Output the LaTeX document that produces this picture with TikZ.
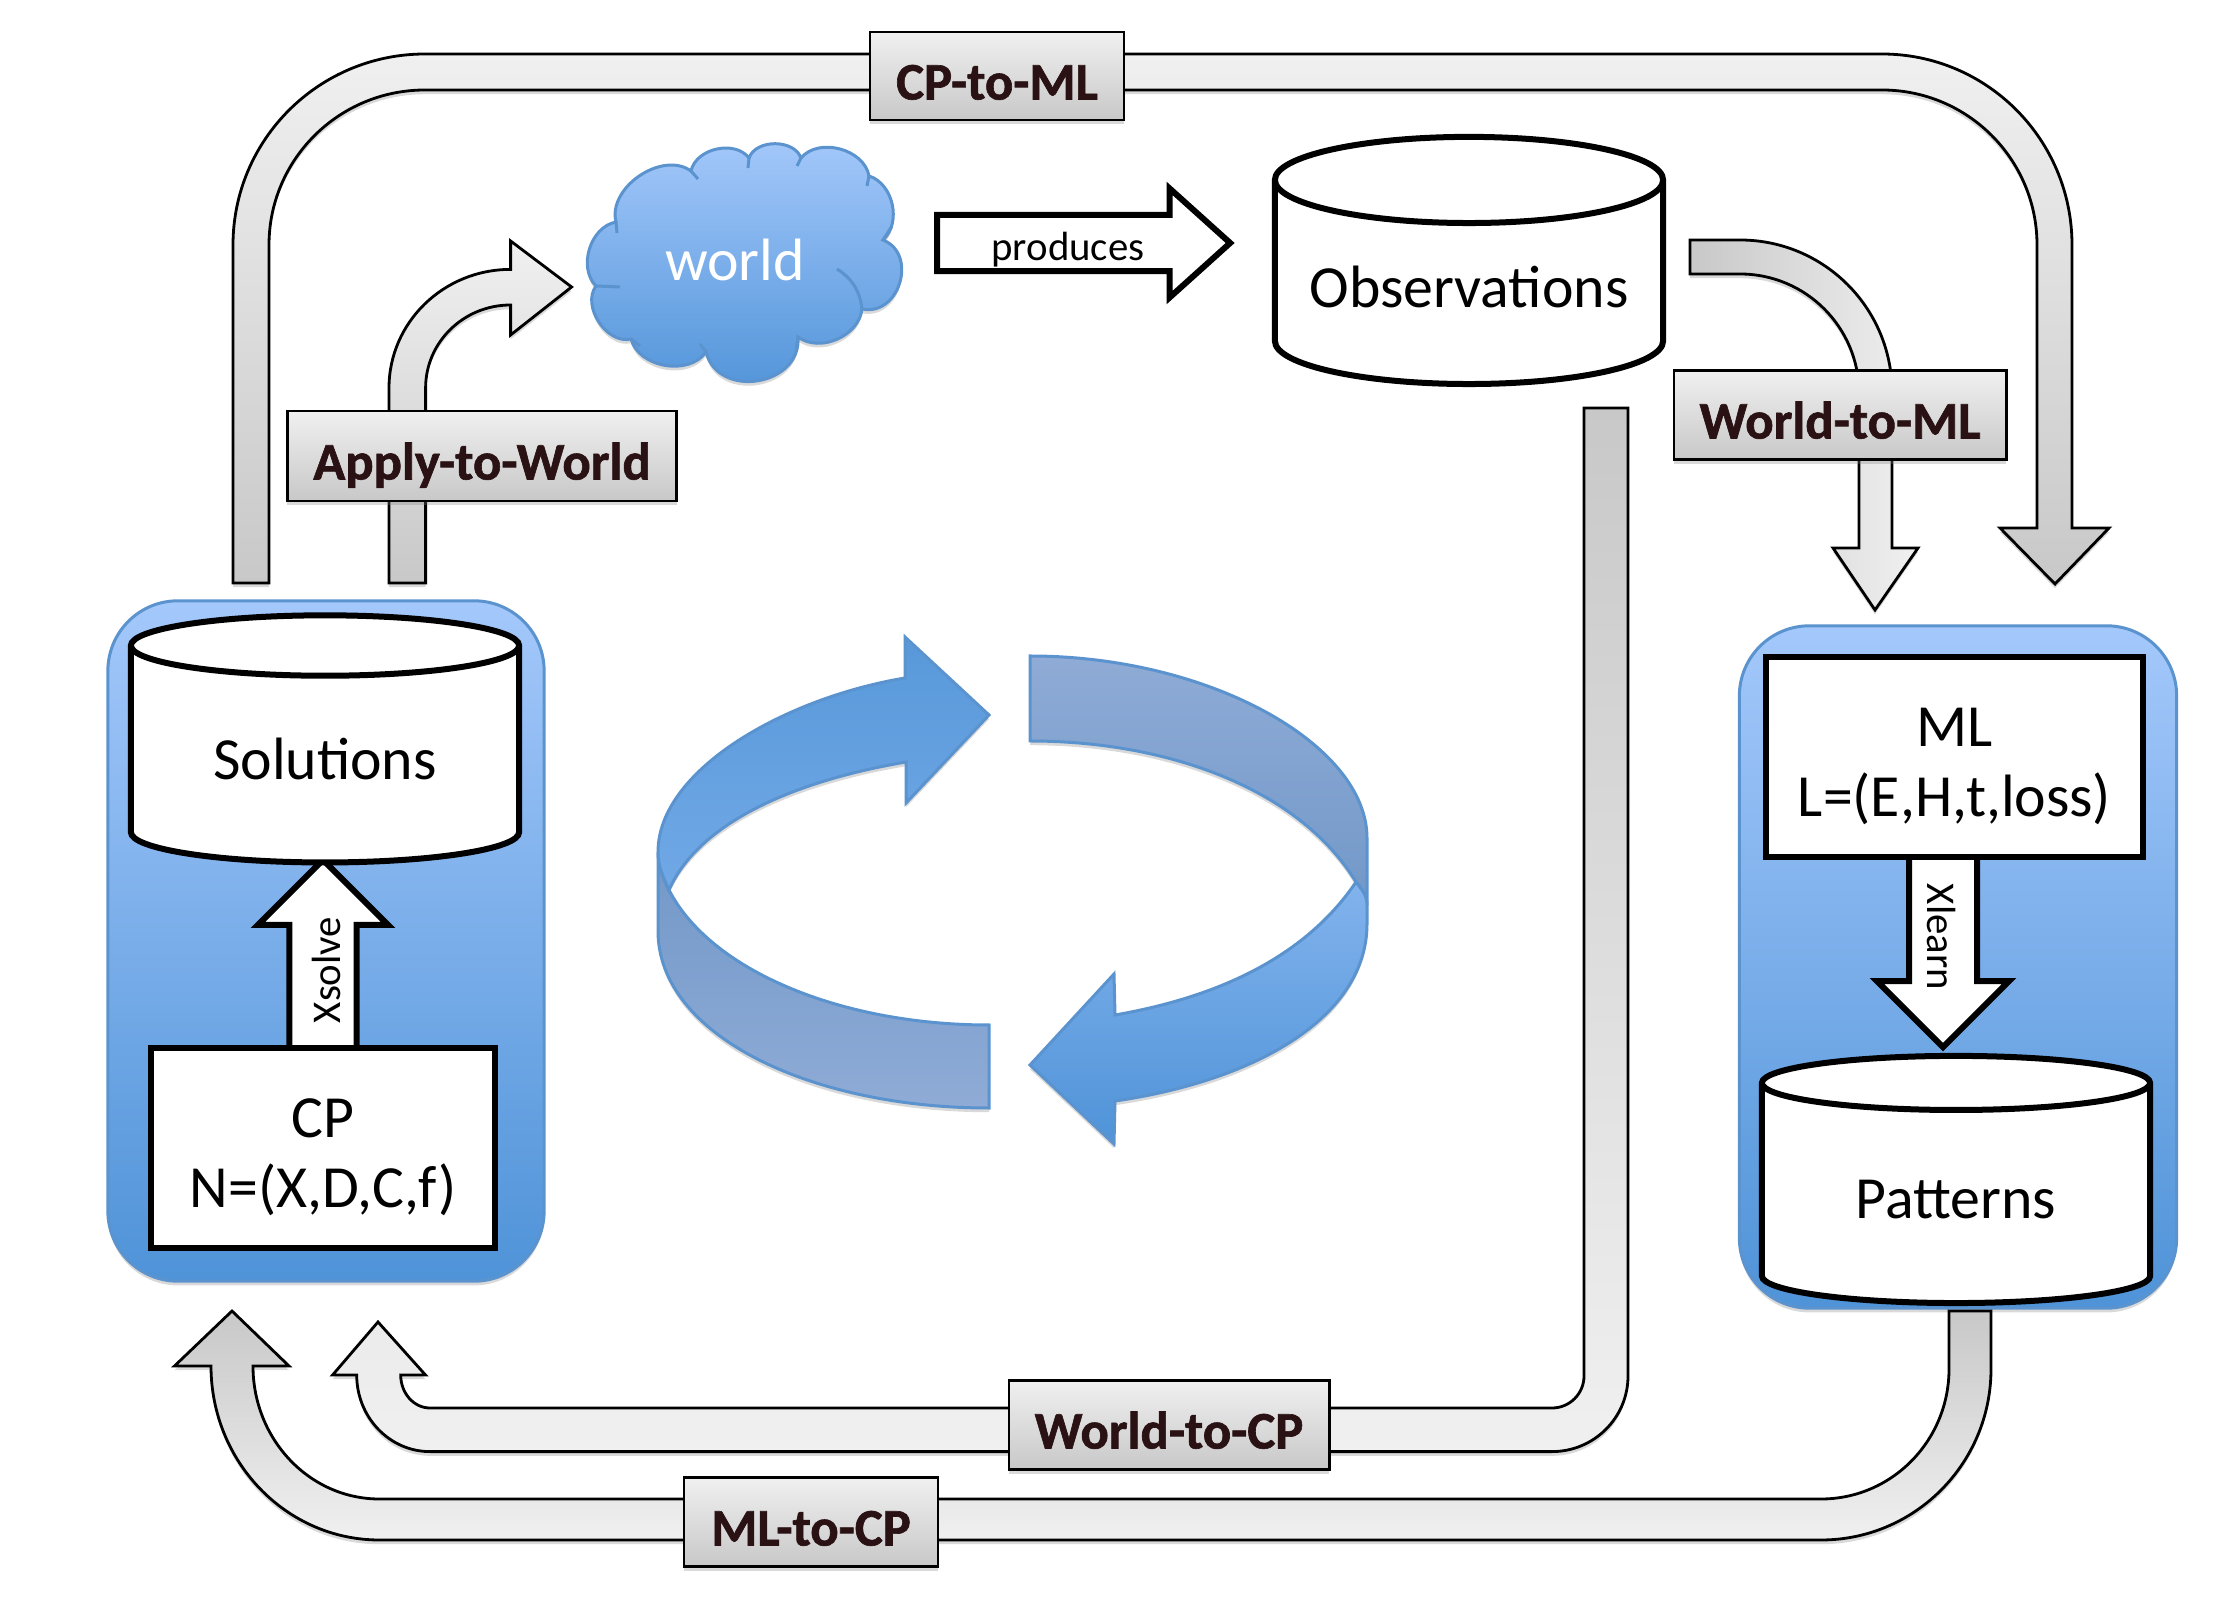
\documentclass[tikz,border=0pt]{standalone}
\usepackage{fontspec}
\setmainfont{Carlito}
\newfontfamily\labelfont[BoldFeatures={FakeBold=1.2}]{Carlito}
\usepackage{tikz}
\usetikzlibrary{positioning,shapes.geometric,shapes.arrows,shadows}
\definecolor{edgeblue}{HTML}{5B93CF}
\definecolor{boxtop}{HTML}{A4C8FB}
\definecolor{boxbottom}{HTML}{4F93D8}
\definecolor{bandlight}{HTML}{F0F0F0}
\definecolor{banddark}{HTML}{C8C8C8}
\definecolor{labeltext}{HTML}{2A1214}
\definecolor{slatelight}{HTML}{8FABD6}
\definecolor{slatedark}{HTML}{7298C8}
\tikzstyle{softshadow} = [drop shadow={shadow xshift=0pt,shadow yshift=-1.2pt,opacity=.3}]
\tikzstyle{group} = [draw=edgeblue,line width=.03cm,top color=boxtop,bottom color=boxbottom,rounded corners=.7cm,softshadow]
\tikzstyle{store} = [draw,line width=.06cm,fill=white,cylinder,shape border rotate=90,shape aspect=.27,minimum width=3.88cm,minimum height=2.47cm,inner sep=0pt,outer sep=0pt,text height=.48cm,text depth=0pt,font=\fontsize{17}{20}\selectfont]
\tikzstyle{task} = [draw,line width=.06cm,fill=white,align=center,inner sep=0pt,font=\fontsize{17}{20}\selectfont]
\tikzstyle{blockarrow} = [draw,line width=.06cm,fill=white,single arrow,single arrow tip angle=90,inner sep=0pt,outer sep=0pt]
\tikzstyle{band} = [draw,line width=.028cm,softshadow]
\tikzstyle{bandlabel} = [draw,line width=.028cm,top color=bandlight,bottom color=banddark,text=labeltext,text height=.5cm,text depth=.03cm,inner ysep=0pt,font=\fontsize{15}{18}\selectfont\labelfont\bfseries,softshadow]
\tikzstyle{ribbon} = [draw=edgeblue,line width=.03cm,softshadow]
\tikzstyle{small} = [font=\fontsize{11.6}{14}\selectfont]
\begin{document}
\begin{tikzpicture}[x=.01cm,y=-.01cm]
		\useasboundingbox (0,0) rectangle (2224,1607);

		% the two groups
		\node (cpgroup)[group,minimum width=4.36cm,minimum height=6.8cm] at (326,941) {};
		\node (mlgroup)[group,minimum width=4.37cm,minimum height=6.82cm] at (1958,967) {};

		% grey bands
		\draw[band,top color=bandlight,bottom color=banddark] (233,583) -- (233,245) arc (180:270:192 and 191) -- (1882,54) arc (270:360:190 and 191) -- (2072,528) -- (2109,528) -- (2055,584) -- (2000,528) -- (2037,528) -- (2037,245) arc (0:-90:155) -- (425,90) arc (270:180:156 and 155) -- (269,583) -- cycle;
		\draw[band,top color=bandlight,bottom color=banddark] (389,583) -- (389,388) arc (180:270:121.6 and 118.6) -- (510.6,241) -- (571.6,287) -- (510.6,335) -- (510.6,305) arc (270:180:85 and 83) -- (425.6,583) -- cycle;
		\draw[band,left color=banddark,right color=bandlight] (1690,240) -- (1740,240) arc (270:360:152) -- (1892,548) -- (1918,548) -- (1875,610) -- (1833,548) -- (1859,548) -- (1859,393) arc (0:-90:119) -- (1690,274) -- cycle;
		\draw[band,top color=banddark,bottom color=bandlight] (1584,408) -- (1584,1376) arc (0:90:32) -- (430,1408) arc (90:180:29.3 and 33) -- (425.5,1375) -- (378,1322) -- (332.6,1375) -- (356.7,1375) arc (180:90:73.3 and 76.6) -- (1552,1451.6) arc (90:0:76 and 75.6) -- (1628,408) -- cycle;
		\draw[band,top color=banddark,bottom color=bandlight] (1949,1311) -- (1949,1369) arc (0:90:128 and 130) -- (379.4,1499) arc (90:180:126.4 and 133) -- (289,1366) -- (232,1311) -- (174.5,1366) -- (211,1366) arc (180:90:168.4 and 174) -- (1821,1540) arc (90:0:170 and 171) -- (1991,1311) -- cycle;

		\node (cptoml)[bandlabel,minimum width=2.54cm,minimum height=.88cm] at (997,76) {CP-to-ML};
		\node (applytoworld)[bandlabel,minimum width=3.89cm,minimum height=.9cm] at (482,456) {Apply-to-World};
		\node (worldtoml)[bandlabel,minimum width=3.32cm,minimum height=.89cm] at (1840,415) {World-to-ML};
		\node (worldtocp)[bandlabel,minimum width=3.2cm,minimum height=.89cm] at (1169,1425) {World-to-CP};
		\node (mltocp)[bandlabel,minimum width=2.54cm,minimum height=.89cm] at (811,1522) {ML-to-CP};

		% cloud
		\draw[draw=edgeblue,line width=.03cm,top color=boxtop,bottom color=boxbottom,softshadow]
			(616,222) to[bend left=70] (691,171) to[bend left=65] (749,158) to[bend left=70] (801,158) to[bend left=65] (869,176) to[bend left=60] (883,240) to[bend left=85,looseness=1.35] (862,309) to[bend left=60] (798,337) to[bend left=85,looseness=1.35] (706,352) to[bend left=65] (631,339) to[bend left=70] (596,286) to[bend left=62] cycle;
		\draw[draw=edgeblue,line width=.03cm] (837,269) to[bend left=25] (862,309) (691,171) -- (698,179) (749,158) -- (748,168) (801,158) -- (797,166) (869,176) -- (867,186) (883,240) -- (892,226) (596,286) -- (620,287) (616,222) -- (617,233) (798,337) -- (796,350) (706,352) -- (700,344) (631,339) -- (640,346);
		\node (world)[text=white,font=\fontsize{17}{20}\selectfont] at (735,260) {world};

		% produces
		\node (producesarrow)[blockarrow,anchor=tail,minimum height=2.93cm,single arrow head extend=.265cm,single arrow tip angle=84] at (937,243) {\rule{0pt}{.5cm}};
		\node (produces)[small] at (1068,250) {produces};

		% stores and tasks
		\node (observations)[store] at (1469,283.5) {Observations};

		\node (xsolvearrow)[blockarrow,anchor=tail,rotate=90,minimum height=1.9cm,single arrow head extend=.315cm] at (323,1050) {\rule{0pt}{.61cm}};
		\node (xsolve)[small,rotate=90] at (326,970) {Xsolve};
		\node (solutions)[store] at (325,755.5) {Solutions};
		\node (cp)[task,minimum width=3.43cm,minimum height=1.99cm] at (323,1148) {\rule{0pt}{.57cm}CP\\N=(X,D,C,f)};

		\node (xlearnarrow)[blockarrow,anchor=tail,rotate=-90,minimum height=1.9cm,single arrow head extend=.32cm] at (1943,857) {\rule{0pt}{.62cm}};
		\node (xlearn)[small,rotate=-90] at (1941,937) {Xlearn};
		\node (ml)[task,minimum width=3.77cm,minimum height=2cm] at (1954.5,757) {\rule{0pt}{.57cm}ML\\L=(E,H,t,loss)};
		\node (patterns)[store] at (1956,1194.5) {Patterns};

		% the cycle in the middle
		\draw[ribbon,top color=slatedark,bottom color=slatelight] (658,852) -- (658,931) .. controls (658,1035) and (810,1108) .. (989,1108) -- (989,1025) .. controls (840,1025) and (710,970) .. (669,890) .. controls (662,875) and (658,865) .. (658,852) -- cycle;
		\draw[ribbon,top color=boxbottom!95!white,bottom color=boxbottom!60!boxtop] (905,678) .. controls (785,698) and (658,770) .. (658,852) .. controls (658,865) and (662,875) .. (669,890) .. controls (700,820) and (800,780) .. (906,762) -- (906,803) -- (989,715) -- (905,637) -- cycle;
		\draw[ribbon,top color=slatelight,bottom color=slatedark] (1030,656) .. controls (1210,656) and (1367,745) .. (1367,838) -- (1367,905) .. controls (1367,895) and (1362,890) .. (1356,882) .. controls (1300,790) and (1170,741) .. (1030,741) -- cycle;
		\draw[ribbon,top color=boxtop!60!boxbottom,bottom color=boxbottom] (1356,882) .. controls (1310,950) and (1230,995) .. (1115,1015) -- (1114,974) -- (1030,1065) -- (1114,1144) -- (1115,1101) .. controls (1260,1080) and (1367,1015) .. (1367,924) -- (1367,905) .. controls (1367,895) and (1362,890) .. (1356,882) -- cycle;
	\end{tikzpicture}
\end{document}
